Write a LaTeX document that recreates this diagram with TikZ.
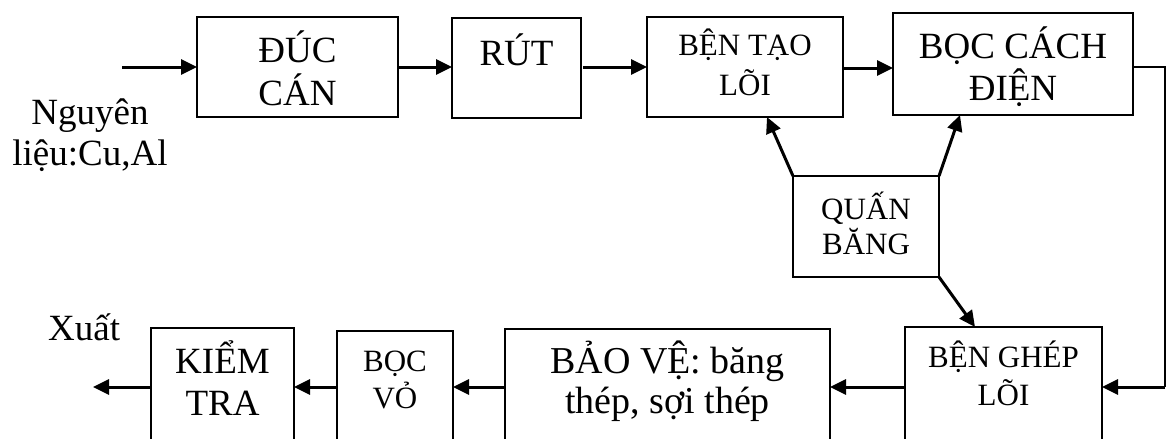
\documentclass[tikz,border=0pt]{standalone}
\usepackage{fontspec}
\setmainfont{Liberation Serif}
\usetikzlibrary{arrows.meta,calc}
\tikzset{
  box/.style={draw, line width=2.3pt, rectangle, inner sep=0pt, outer sep=0pt},
  arr/.style={line width=3pt, -{Triangle[length=16pt,width=15pt]}},
  link/.style={line width=2.3pt},
  big/.style={font=\fontsize{37}{40}\selectfont, anchor=base, inner sep=0pt},
  small/.style={font=\fontsize{31}{35}\selectfont, anchor=base, inner sep=0pt},
}
\begin{document}
\begin{tikzpicture}[x=1pt,y=-1pt]
\useasboundingbox (0,0) rectangle (1171,439);
\clip (0,0) rectangle (1171,439);
% boxes
\node[box, minimum width=201pt, minimum height=100pt] (duc) at (297.5,67) {};
\node[box, minimum width=129pt, minimum height=100pt] (rut) at (516.5,68) {};
\node[box, minimum width=196pt, minimum height=100pt] (ben) at (745,67) {};
\node[box, minimum width=240pt, minimum height=102pt] (boc) at (1013,64) {};
\node[box, minimum width=146pt, minimum height=101pt] (quan) at (866,226.5) {};
\node[box, minimum width=197pt, minimum height=123pt] (ghep) at (1003.5,388.5) {};
\node[box, minimum width=325pt, minimum height=121pt] (baove) at (667.5,389.5) {};
\node[box, minimum width=116pt, minimum height=119pt] (bocvo) at (395,390.5) {};
\node[box, minimum width=143pt, minimum height=122pt] (kiem) at (222.5,389) {};
% texts
\node[big] (t1) at (297.5,62) {ĐÚC};
\node[big] (t2) at (297.5,105) {CÁN};
\node[big] (t3) at (516.5,65) {RÚT};
\node[small] (t4) at (745,56) {BỆN TẠO};
\node[small] (t5) at (745,95) {LÕI};
\node[big] (t6) at (1013,58) {BỌC CÁCH};
\node[big] (t7) at (1013,100) {ĐIỆN};
\node[small] (t8) at (866,219) {QUẤN};
\node[small] (t9) at (866,254) {BĂNG};
\node[small] (t10) at (1003.5,367) {BỆN GHÉP};
\node[small] (t11) at (1003.5,405) {LÕI};
\node[big, font=\fontsize{38}{40}\selectfont] (t12) at (667.5,373) {BẢO VỆ: băng};
\node[big, font=\fontsize{38}{40}\selectfont] (t13) at (667.5,413) {thép, sợi thép};
\node[small] (t14) at (395,371) {BỌC};
\node[small] (t15) at (395,408) {VỎ};
\node[big] (t16) at (222.5,373) {KIỂM};
\node[big] (t17) at (222.5,415) {TRA};
\node[big, anchor=base west] (xuat) at (48,340) {Xuất};
\node[big] (ng1) at (90,124) {Nguyên};
\node[big] (ng2) at (90,165) {liệu:Cu,Al};
% free ends
\coordinate (in) at (122,67);
\coordinate (out) at (93,387);
\coordinate (c1) at (1165,67);
\coordinate (c2) at (1165,387);
% connectors
\draw[arr] (in) -- (in -| duc.west);
\draw[arr] (duc.east |- 0,67) -- (rut.west |- 0,67);
\draw[arr] (rut.east |- 0,67) ++(2,0) -- (ben.west |- 0,67);
\draw[arr] (ben.east |- 0,68) -- (boc.west |- 0,68);
\draw[link] (boc.east |- c1) -- (c1) -- (c2);
\draw[arr] (c2) -- (c2 -| ghep.east);
\draw[arr] (quan.north west) -- (ben.south -| 767,0);
\draw[arr] (quan.north east) -- (boc.south -| 960,0);
\draw[arr] (quan.south east) -- (ghep.north -| 975,0);
\draw[arr] (ghep.west |- 0,387) -- (baove.east |- 0,387);
\draw[arr] (baove.west |- 0,387) -- (bocvo.east |- 0,387);
\draw[arr] (bocvo.west |- 0,387) -- (kiem.east |- 0,387);
\draw[arr] (kiem.west |- out) -- (out);
\end{tikzpicture}
\end{document}
